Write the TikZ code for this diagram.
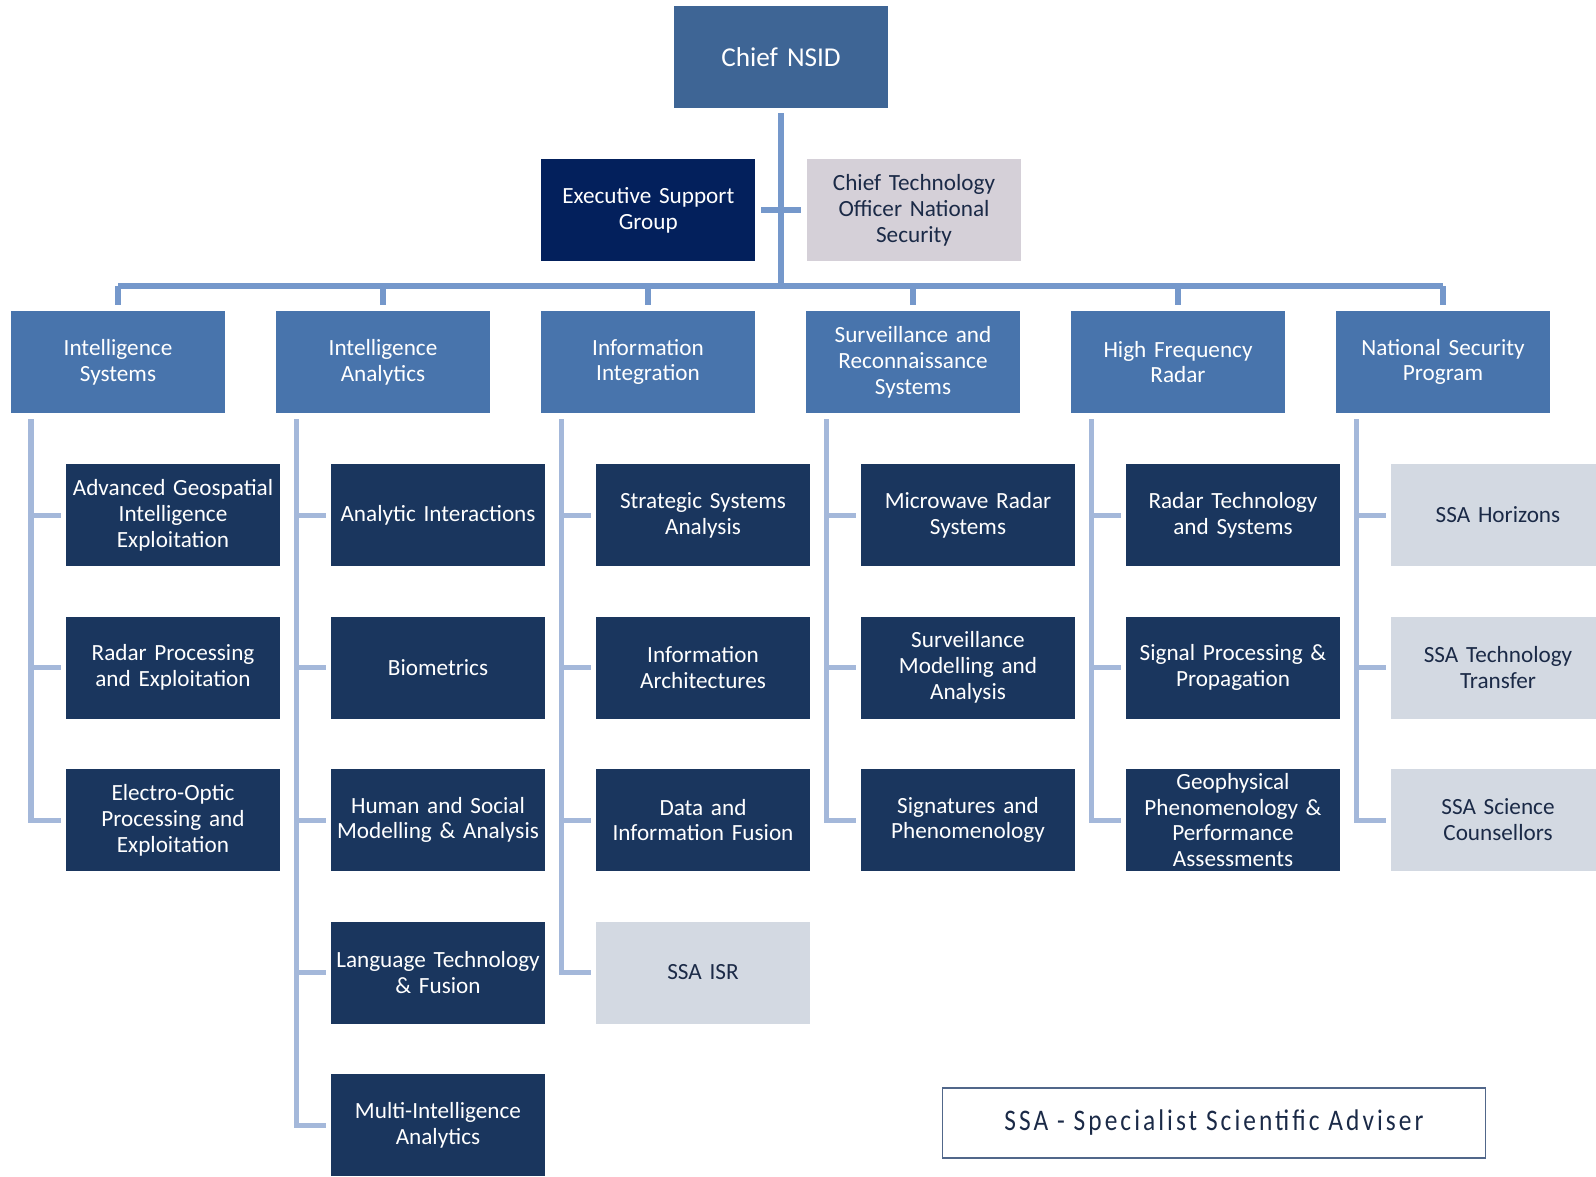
\documentclass[tikz,border=0pt]{standalone}
\usepackage{fontspec}
\setmainfont[WordSpace=0.85]{Carlito}
\newfontfamily\legendfont[LetterSpace=12]{Carlito}
\usetikzlibrary{positioning}
\usetikzlibrary{calc}

\definecolor{chiefblue}{HTML}{3E6595}
\definecolor{esgnavy}{HTML}{03205C}
\definecolor{ctogray}{HTML}{D5D0D8}
\definecolor{headblue}{HTML}{4874AC}
\definecolor{unitnavy}{HTML}{1A365E}
\definecolor{ssagray}{HTML}{D3D9E2}
\definecolor{darktext}{HTML}{1B2A47}
\definecolor{topline}{HTML}{7598CB}
\definecolor{subline}{HTML}{A4B8DA}
\definecolor{legendline}{HTML}{51678A}

\tikzset{
    orgbox/.style={rectangle, minimum width=4.28cm, minimum height=2.04cm, inner sep=0pt, outer sep=0pt,
        text width=4.28cm, align=center, font=\fontsize{13.2}{14.7}\selectfont},
    chiefbox/.style={orgbox, fill=chiefblue, text=white, font=\fontsize{15.5}{17}\selectfont},
    esgbox/.style={orgbox, fill=esgnavy, text=white},
    ctobox/.style={orgbox, fill=ctogray, text=darktext},
    headbox/.style={orgbox, fill=headblue, text=white},
    unitbox/.style={orgbox, fill=unitnavy, text=white},
    ssabox/.style={orgbox, fill=ssagray, text=darktext},
    mainline/.style={draw=topline, line width=0.12cm},
    childline/.style={draw=subline, line width=0.1cm}
}

\begin{document}
\begin{tikzpicture}[node distance=1.02cm]
    \useasboundingbox (0,0) rectangle (31.92,-23.52);

    % top of the tree
    \node[chiefbox] (chief) at (15.62,-1.14) {Chief NSID};
    \node[esgbox] (esg) at (12.966,-4.2) {Executive Support\\Group};
    \node[ctobox] (cto) at (18.28,-4.2) {Chief Technology\\Officer National\\Security};

    % divisions
    \node[headbox] (intsys) at (2.36,-7.24) {Intelligence\\Systems};
    \node[headbox, right=of intsys] (intan) {Intelligence\\Analytics};
    \node[headbox, right=of intan] (infint) {Information\\Integration};
    \node[headbox, right=of infint] (survrec) {Surveillance and\\Reconnaissance\\Systems};
    \node[headbox, right=of survrec] (hfr) {High Frequency\\Radar};
    \node[headbox, right=of hfr] (nsp) {National Security\\Program};

    % groups
    \node[unitbox, below=of intsys, xshift=1.1cm] (intsys1) {Advanced Geospatial\\Intelligence\\Exploitation};
    \node[unitbox, below=1.01cm of intsys1] (intsys2) {Radar Processing\\and Exploitation};
    \node[unitbox, below=1.01cm of intsys2] (intsys3) {Electro-Optic\\Processing and\\Exploitation};

    \node[unitbox, below=of intan, xshift=1.1cm] (intan1) {Analytic Interactions};
    \node[unitbox, below=1.01cm of intan1] (intan2) {Biometrics};
    \node[unitbox, below=1.01cm of intan2] (intan3) {Human and Social\\Modelling \& Analysis};
    \node[unitbox, below=1.01cm of intan3] (intan4) {Language Technology\\\& Fusion};
    \node[unitbox, below=1.01cm of intan4] (intan5) {Multi-Intelligence\\Analytics};

    \node[unitbox, below=of infint, xshift=1.1cm] (infint1) {Strategic Systems\\Analysis};
    \node[unitbox, below=1.01cm of infint1] (infint2) {Information\\Architectures};
    \node[unitbox, below=1.01cm of infint2] (infint3) {Data and\\Information Fusion};
    \node[ssabox, below=1.01cm of infint3] (infint4) {SSA ISR};

    \node[unitbox, below=of survrec, xshift=1.1cm] (survrec1) {Microwave Radar\\Systems};
    \node[unitbox, below=1.01cm of survrec1] (survrec2) {Surveillance\\Modelling and\\Analysis};
    \node[unitbox, below=1.01cm of survrec2] (survrec3) {Signatures and\\Phenomenology};

    \node[unitbox, below=of hfr, xshift=1.1cm] (hfr1) {Radar Technology\\and Systems};
    \node[unitbox, below=1.01cm of hfr1] (hfr2) {Signal Processing \&\\Propagation};
    \node[unitbox, below=1.01cm of hfr2] (hfr3) {Geophysical\\Phenomenology \&\\Performance\\Assessments};

    \node[ssabox, below=of nsp, xshift=1.1cm] (nsp1) {SSA Horizons};
    \node[ssabox, below=1.01cm of nsp1] (nsp2) {SSA Technology\\Transfer};
    \node[ssabox, below=1.01cm of nsp2] (nsp3) {SSA Science\\Counsellors};

    % legend
    \node[draw=legendline, line width=0.7pt, minimum width=10.87cm, minimum height=1.4cm, text=darktext,
        font=\legendfont\fontsize{17}{20}\selectfont] (legend) at (24.28,-22.46)
        {\scalebox{0.85}[1]{SSA - Specialist Scientific Adviser}};

    % connectors
    \coordinate (bus) at (15.62,-5.72);
    \draw[mainline, shorten <=0.1cm] (chief.south) -- (bus);
    \draw[mainline, shorten <=0.12cm, shorten >=0.12cm] (esg.east) -- (cto.west);
    \draw[mainline] (intsys.north |- bus) -- (nsp.north |- bus);
    \foreach \d in {intsys, intan, infint, survrec, hfr, nsp}
        \draw[mainline, shorten >=0.13cm] (\d.north |- bus) -- (\d.north);

    \foreach \d/\last in {intsys/3, intan/5, infint/4, survrec/3, hfr/3, nsp/3} {
        \coordinate (\d spine) at ([xshift=0.4cm]\d.south west);
        \draw[childline, shorten <=0.12cm, shorten >=0.1cm] (\d spine) |- (\d\last.west);
        \foreach \k in {1,...,\last}
            \draw[childline, shorten >=0.1cm] (\d spine |- \d\k.west) -- (\d\k.west);
    }
\end{tikzpicture}
\end{document}
